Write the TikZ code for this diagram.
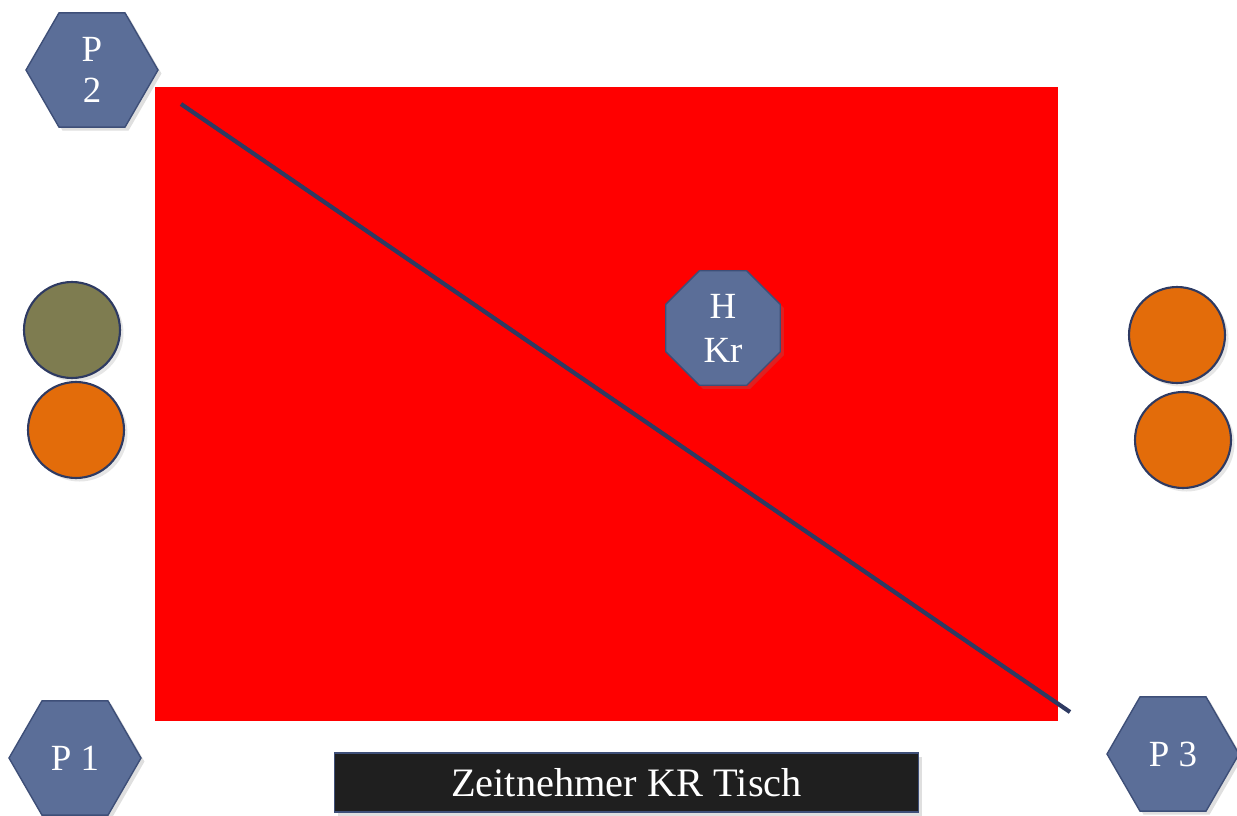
\documentclass[tikz,border=0pt]{standalone}
\usepackage{fontspec}
\setmainfont{Liberation Serif}
\usetikzlibrary{shapes.geometric,shadows}

\definecolor{slate}{HTML}{5B6E98}
\definecolor{slateline}{HTML}{3E4F78}
\definecolor{navy}{HTML}{2E3A62}
\definecolor{olive}{HTML}{7E7C50}
\definecolor{rust}{HTML}{E36C0A}
\definecolor{barblack}{HTML}{1F1F1F}

\tikzset{
  player/.style={regular polygon,regular polygon sides=6,minimum size=2.64cm,inner sep=0pt,
    fill=slate,draw=slateline,line width=0.8pt,text=white,align=center,
    font=\fontsize{21}{23}\selectfont,drop shadow={opacity=0.25,shadow xshift=2pt,shadow yshift=-2pt}},
  referee/.style={regular polygon,regular polygon sides=8,minimum size=2.48cm,inner sep=0pt,
    fill=slate,draw=slateline,line width=0.8pt,text=white,align=center,
    font=\fontsize{21}{25}\selectfont,drop shadow={opacity=0.25,shadow xshift=2pt,shadow yshift=-2pt}},
  ball/.style={circle,minimum size=1.92cm,inner sep=0pt,draw=navy,line width=1.2pt,
    drop shadow={opacity=0.2,shadow xshift=2pt,shadow yshift=-2pt}},
}

\begin{document}
\begin{tikzpicture}[x=0.02cm,y=-0.02cm]
  \useasboundingbox (0,0) rectangle (1237,815);
  % spielfeld
  \fill[red] (155,87) rectangle (1058,721);
  \coordinate (diagA) at (181,104);
  \coordinate (diagB) at (1070,712);
  \draw[navy,line width=2.4pt] (diagA) -- (diagB);
  % hauptkampfrichter
  \node[referee] (hkr) at (723,328) {H\\Kr};
  % positionen
  \node[player] (p2) at (92,70) {P\\2};
  \node[player] (p1) at (75,758) {P 1};
  \node[player] (p3) at (1173,754) {P 3};
  % baelle links
  \node[ball,fill=olive] (ballL1) at (72,330) {};
  \node[ball,fill=rust] (ballL2) at (76,430) {};
  % baelle rechts
  \node[ball,fill=rust] (ballR1) at (1177,335) {};
  \node[ball,fill=rust] (ballR2) at (1183,440) {};
  % tisch
  \node[fill=barblack,draw=slateline,line width=0.6pt,minimum width=11.7cm,minimum height=1.18cm,
    text=white,font=\fontsize{23}{26}\selectfont,
    drop shadow={opacity=0.25,shadow xshift=2pt,shadow yshift=-2pt}] (tisch) at (626.5,782.5) {Zeitnehmer KR Tisch};
\end{tikzpicture}
\end{document}
